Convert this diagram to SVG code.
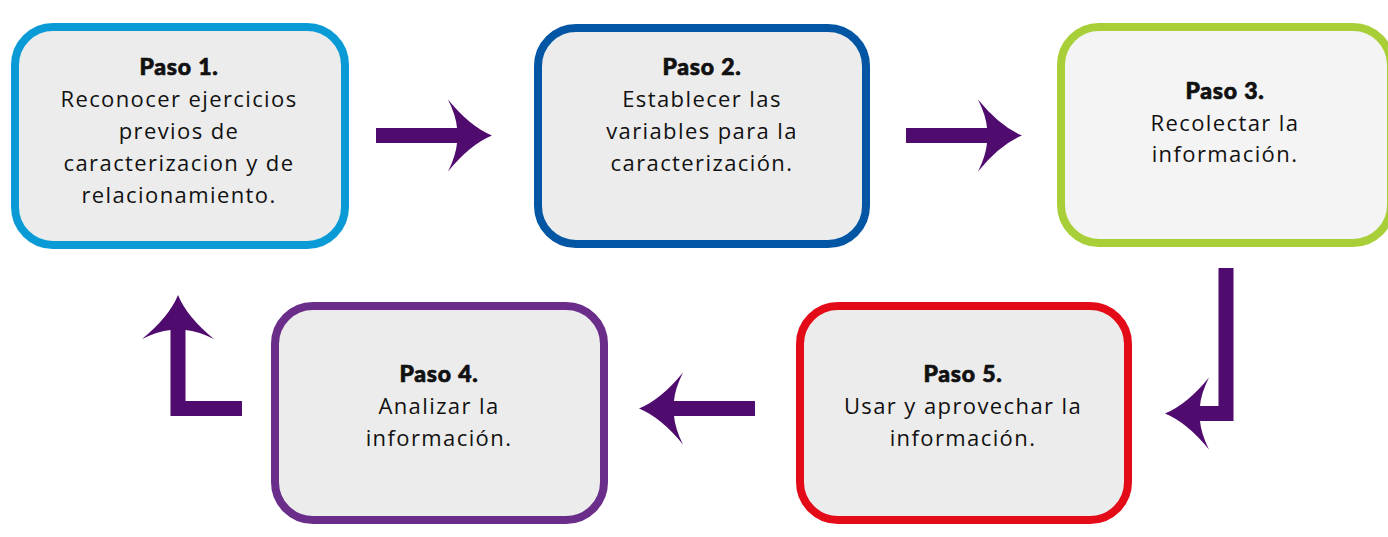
<svg xmlns="http://www.w3.org/2000/svg" width="1388" height="537" viewBox="0 0 1388 537">
<style>
.box{stroke-width:8}
.t{font-family:"Open Sans",Roboto,"Liberation Sans",sans-serif;font-size:22px;letter-spacing:1.4px;fill:#111;text-anchor:middle}
.h{font-family:Lato,Roboto,"DejaVu Sans",sans-serif;font-weight:900;font-size:23px;letter-spacing:0.8px;stroke:#111;stroke-width:0.7px}
.arr{fill:#500b6f}
</style>
<defs>
<path id="straight" d="M-116,-7.5 H-35 Q-36,-20 -44,-36 Q-22,-9 0,0 Q-22,9 -44,36 Q-36,20 -35,7.5 H-116 Z"/>
</defs>
<rect width="1388" height="537" fill="#fff"/>
<g id="connectors" class="arr">
<use href="#straight" transform="translate(492,135.5)"/>
<use href="#straight" transform="translate(1022,135.5)"/>
<path d="M1218.5,268 H1233.5 V421 H1200 Q1201,433.5 1209,449.5 Q1187,422.5 1165,413.5 Q1187,404.5 1209,377.5 Q1201,393.5 1200,406 H1218.5 Z"/>
<use href="#straight" transform="translate(639,408.5) rotate(180)"/>
<path d="M170.5,330 Q158,331 142,339 Q169,317 178,295 Q187,317 214,339 Q198,331 185.5,330 V401 H242 V416 H170.5 Z"/>
</g>
<g id="paso1">
<rect class="box" x="15" y="27" width="330" height="218" rx="38" fill="#ececec" stroke="#0a9bd7"/>
<text class="t"><tspan class="h" x="179" y="75">Paso 1.</tspan><tspan x="179" y="107">Reconocer ejercicios</tspan><tspan x="179" y="139">previos de</tspan><tspan x="179" y="171">caracterizacion y de</tspan><tspan x="179" y="203">relacionamiento.</tspan></text>
</g>
<g id="paso2">
<rect class="box" x="538" y="28" width="328" height="216" rx="38" fill="#ececec" stroke="#0356a4"/>
<text class="t"><tspan class="h" x="702" y="75">Paso 2.</tspan><tspan x="702" y="107">Establecer las</tspan><tspan x="702" y="139">variables para la</tspan><tspan x="702" y="171">caracterización.</tspan></text>
</g>
<g id="paso3">
<rect class="box" x="1061" y="27" width="330" height="216" rx="38" fill="#f4f4f4" stroke="#a8cf38"/>
<text class="t"><tspan class="h" x="1225" y="99">Paso 3.</tspan><tspan x="1225" y="131">Recolectar la</tspan><tspan x="1225" y="162">información.</tspan></text>
</g>
<g id="paso4">
<rect class="box" x="275" y="306" width="329" height="214" rx="38" fill="#ececec" stroke="#6a2d89"/>
<text class="t"><tspan class="h" x="439" y="382">Paso 4.</tspan><tspan x="439" y="414">Analizar la</tspan><tspan x="439" y="446">información.</tspan></text>
</g>
<g id="paso5">
<rect class="box" x="800" y="306" width="328" height="214" rx="38" fill="#ececec" stroke="#e30b17"/>
<text class="t"><tspan class="h" x="963" y="382">Paso 5.</tspan><tspan x="963" y="414">Usar y aprovechar la</tspan><tspan x="963" y="446">información.</tspan></text>
</g>
</svg>
